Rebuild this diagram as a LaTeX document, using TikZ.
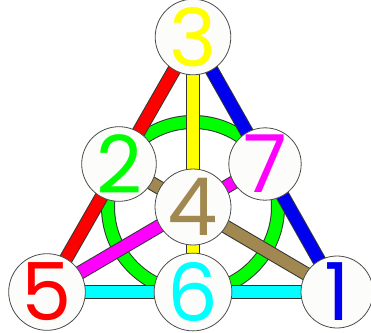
\documentclass[tikz,border=0pt]{standalone}
\usepackage{fontspec}
\setmainfont{Poppins}
\definecolor{tan}{RGB}{160,136,80}
\definecolor{nodefill}{RGB}{252,252,250}
\definecolor{cyanc}{RGB}{0,255,255}
\definecolor{magc}{RGB}{255,0,255}
\definecolor{greenc}{RGB}{0,255,0}
\definecolor{bluec}{RGB}{0,0,240}
\definecolor{redc}{RGB}{255,0,0}
\definecolor{yellowc}{RGB}{255,255,0}
\tikzset{
  pt/.style={circle, draw=black!70, line width=0.8pt, fill=nodefill, minimum size=72pt, inner sep=0pt, font=\fontsize{80}{80}\selectfont},
  barout/.style={line width=14pt, black!80},
  barin/.style={line width=12pt}
}
\begin{document}
\begin{tikzpicture}[x=1pt,y=-1pt]
\useasboundingbox[fill=white] (0,0) rectangle (371,332);
\begin{scope}
\clip (0,0) rectangle (371,332);
% coordinates
\coordinate (c3) at (193,37);
\coordinate (c2) at (119,164);
\coordinate (c7) at (265,164);
\coordinate (c4) at (193,207);
\coordinate (c5) at (47,292);
\coordinate (c6) at (193,292);
\coordinate (c1) at (337,292);
% green circle
\draw[line width=14pt, black!80] (c4) circle (85);
\draw[line width=12pt, greenc] (c4) circle (85);
% bars
\foreach \a/\b/\col in {c3/c5/redc, c3/c1/bluec, c3/c6/yellowc, c5/c1/cyanc, c5/c7/magc, c2/c1/tan}{
  \draw[barout] (\a) -- (\b);
  \draw[barin, \col] (\a) -- (\b);
}
% nodes
\node[pt, text=yellowc] (n3) at (c3) {3};
\node[pt, text=greenc] (n2) at (c2) {2};
\node[pt, text=magc] (n7) at (c7) {7};
\node[pt, text=tan] (n4) at (c4) {4};
\node[pt, text=redc] (n5) at (c5) {5};
\node[pt, text=cyanc] (n6) at (c6) {6};
\node[pt, text=bluec] (n1) at (c1) {1};
\end{scope}
\end{tikzpicture}
\end{document}
